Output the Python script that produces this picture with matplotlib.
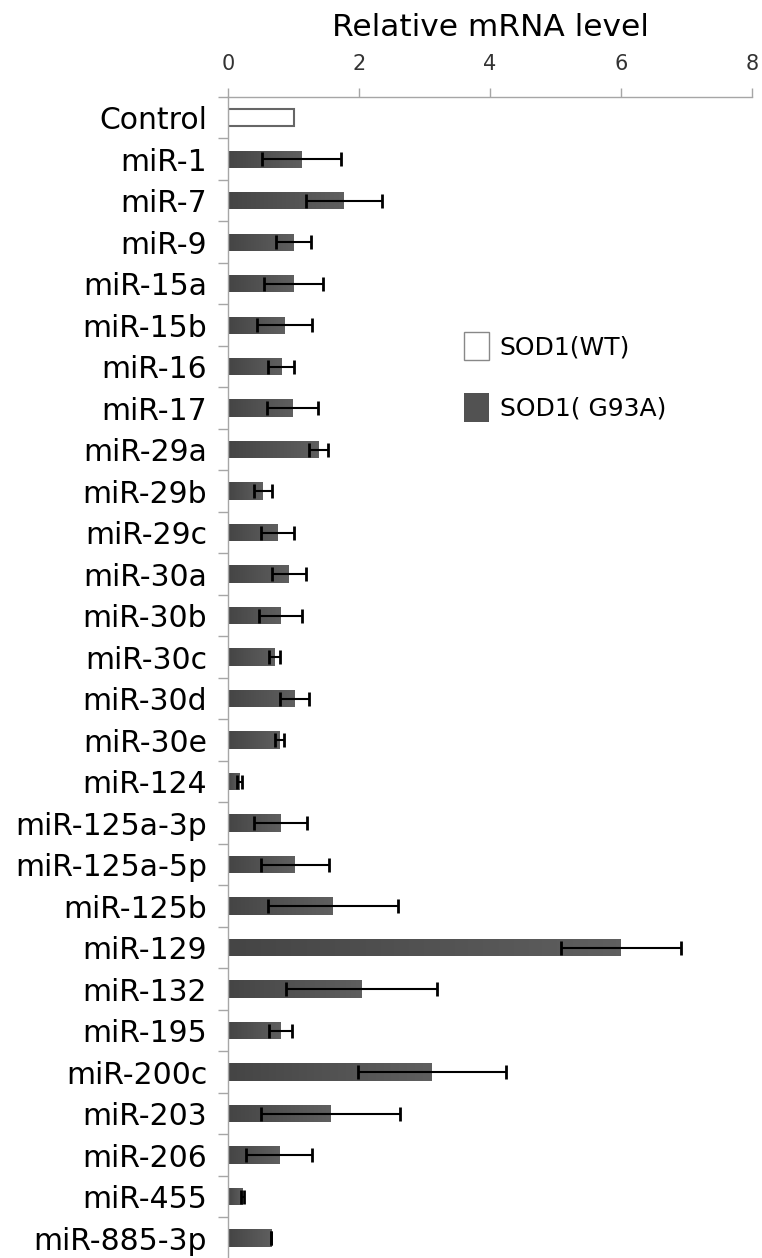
import numpy as np
import matplotlib
matplotlib.use("Agg")
import matplotlib.pyplot as plt
from matplotlib.patches import Patch
from matplotlib.colors import LinearSegmentedColormap

categories = ["Control", "miR-1", "miR-7", "miR-9", "miR-15a", "miR-15b", "miR-16",
              "miR-17", "miR-29a", "miR-29b", "miR-29c", "miR-30a", "miR-30b",
              "miR-30c", "miR-30d", "miR-30e", "miR-124", "miR-125a-3p",
              "miR-125a-5p", "miR-125b", "miR-129", "miR-132", "miR-195",
              "miR-200c", "miR-203", "miR-206", "miR-455", "miR-885-3p"]

# Control is SOD1(WT), everything else is SOD1(G93A)
wt_value = 1.0
g93a_values = [1.12, 1.77, 1.00, 1.00, 0.86, 0.81, 0.99, 1.38, 0.53, 0.75, 0.93,
               0.80, 0.71, 1.02, 0.78, 0.18, 0.80, 1.02, 1.60, 6.00, 2.04, 0.80,
               3.11, 1.57, 0.78, 0.22, 0.66]
g93a_err = [0.60, 0.58, 0.27, 0.45, 0.42, 0.20, 0.39, 0.14, 0.14, 0.25, 0.26,
            0.33, 0.08, 0.22, 0.07, 0.04, 0.41, 0.52, 0.99, 0.92, 1.15, 0.17,
            1.13, 1.06, 0.50, 0.02, 0.0]

xticks = [0, 2, 4, 6, 8]

axis_grey = "#a6a6a6"
bar_grey = "#525252"
shade = LinearSegmentedColormap.from_list("shade", ["#454545", "#5f5f5f"])

fig = plt.figure(figsize=(7.62, 12.58), dpi=100)
ax = fig.add_axes([228 / 762, 0.0, 524 / 762, 1161 / 1258])

y = np.arange(len(categories))
h = 0.42

ax.barh(y[0], wt_value, height=h, color="white", edgecolor="#666666", linewidth=1.5)
bars = ax.barh(y[1:], g93a_values, height=h, color=bar_grey, edgecolor="none")

# left-to-right shading inside each bar
grad = np.linspace(0, 1, 64).reshape(1, -1)
for b in bars:
    x0, y0 = b.get_x(), b.get_y()
    im = ax.imshow(grad, cmap=shade, aspect="auto", interpolation="bilinear",
                   extent=(x0, x0 + b.get_width(), y0 + b.get_height(), y0), zorder=2)
    im.set_clip_path(b)

ax.errorbar(g93a_values, y[1:], xerr=g93a_err, fmt="none", ecolor="black",
            elinewidth=1.5, capsize=5, capthick=2, zorder=3)

ax.set_xlim(0, 8)
ax.set_ylim(len(categories) - 0.52, -0.48)

ax.xaxis.tick_top()
ax.xaxis.set_label_position("top")
ax.set_xticks(xticks)
ax.set_xticklabels([str(t) for t in xticks])
ax.tick_params(axis="x", direction="out", length=6.5, width=1, color=axis_grey,
               labelsize=15, labelcolor="#333333", pad=10)
ax.set_xlabel("Relative mRNA level", fontsize=22.5, labelpad=13)

ax.set_yticks(y)
ax.set_yticklabels(categories)
ax.set_yticks(np.arange(len(categories)) - 0.5, minor=True)
ax.tick_params(axis="y", which="major", length=0, labelsize=21.5, pad=15)
ax.tick_params(axis="y", which="minor", direction="out", length=7.5, width=1,
               color=axis_grey)

for side in ["right", "bottom"]:
    ax.spines[side].set_visible(False)
for side in ["left", "top"]:
    ax.spines[side].set_color(axis_grey)
    ax.spines[side].set_linewidth(1)

handles = [Patch(facecolor="white", edgecolor="#888888", linewidth=1),
           Patch(facecolor=bar_grey, edgecolor="none")]
fig.legend(handles, ["SOD1(WT)", "SOD1( G93A)"], loc="upper left",
           bbox_to_anchor=(451 / 762, 1 - 319 / 1258), frameon=False,
           fontsize=18, handlelength=1.0, handleheight=1.4,
           labelspacing=1.3, handletextpad=0.45, borderpad=0)

fig.savefig("out.png", dpi=100)
